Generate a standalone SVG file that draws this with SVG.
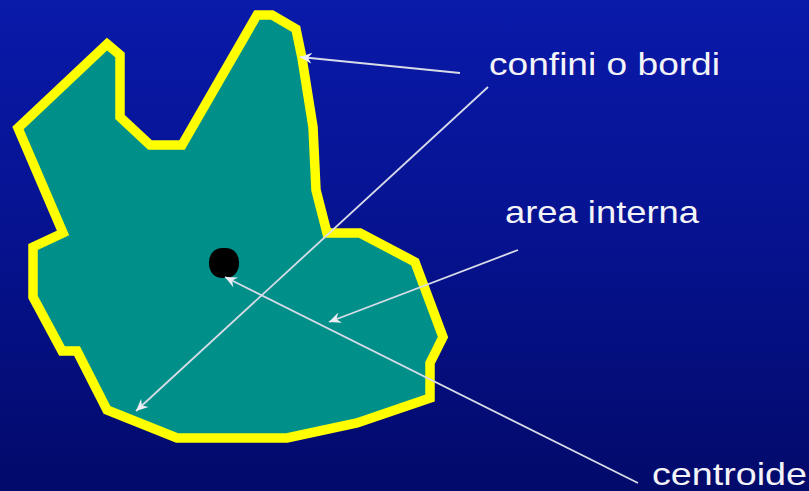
<svg xmlns="http://www.w3.org/2000/svg" width="809" height="491" viewBox="0 0 809 491">
  <defs>
    <linearGradient id="bg" x1="0" y1="0" x2="0" y2="1">
      <stop offset="0" stop-color="#0a1aaa"/>
      <stop offset="0.5" stop-color="#06128e"/>
      <stop offset="1" stop-color="#020a6a"/>
    </linearGradient>
    <marker id="ah" markerWidth="14" markerHeight="12" refX="12" refY="6" orient="auto" markerUnits="userSpaceOnUse">
      <path d="M12,6 L0,0.5 L4,6 L0,11.5 Z" fill="#eeeef6"/>
    </marker>
    <style>
      .lbl { font-family: "Liberation Sans", Arial, sans-serif; font-size: 32px; fill: #f4f4f8; }
      .conn { stroke: #d8dce8; stroke-width: 1.8; fill: none; }
    </style>
  </defs>
  <rect x="0" y="0" width="809" height="491" fill="url(#bg)"/>

  <g id="region">
    <polygon points="107,44 120,55 120,117 150,145 182,145 257,15 272,15 296,29 302,58 313,127 316,190 327,233 360,233 415,262 443,337 430,363 430,398 357,423 287,438 177,438 107,410 77,351 62,351 33,297 33,247 63,233 18,128"
      fill="#009089" stroke="#ffff00" stroke-width="9.5" stroke-linejoin="miter"/>
  </g>

  <g id="centroid">
    <rect x="209" y="248" width="30" height="30" rx="13" ry="14" fill="#000000"/>
  </g>

  <g id="connectors">
    <line class="conn" x1="460" y1="73" x2="300" y2="57" marker-end="url(#ah)"/>
    <line class="conn" x1="488" y1="87" x2="136" y2="411" marker-end="url(#ah)"/>
    <line class="conn" x1="518" y1="250" x2="329" y2="322" marker-end="url(#ah)"/>
    <line class="conn" x1="638" y1="483" x2="225" y2="277" marker-end="url(#ah)"/>
  </g>

  <g id="label-confini">
    <text class="lbl" x="489" y="75" textLength="231" lengthAdjust="spacingAndGlyphs">confini o bordi</text>
  </g>
  <g id="label-area">
    <text class="lbl" x="505" y="223" textLength="194" lengthAdjust="spacingAndGlyphs">area interna</text>
  </g>
  <g id="label-centroide">
    <text class="lbl" x="652" y="485" textLength="155" lengthAdjust="spacingAndGlyphs">centroide</text>
  </g>
</svg>
